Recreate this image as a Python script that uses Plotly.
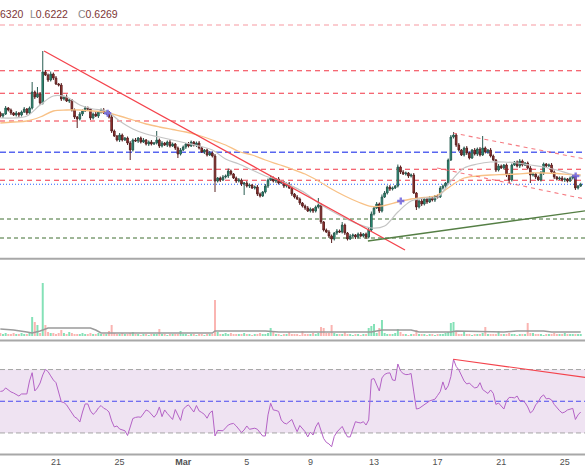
import plotly.graph_objects as go

# ---------------- data (prices in 1e-4 units, 4h candles, index 0..219) ----------------
close_pips = [
    6542, 6550, 6574, 6566, 6554, 6546, 6554, 6546, 6558, 6570,
    6554, 6574, 6638, 6618, 6630, 6594, 6718, 6706, 6686, 6710,
    6694, 6670, 6666, 6610, 6618, 6602, 6606, 6566, 6538, 6530,
    6550, 6562, 6574, 6570, 6534, 6550, 6542, 6558, 6566, 6554,
    6558, 6538, 6482, 6462, 6446, 6466, 6446, 6454, 6434, 6406,
    6446, 6442, 6454, 6438, 6446, 6430, 6438, 6430, 6434, 6446,
    6422, 6434, 6426, 6438, 6422, 6430, 6414, 6390, 6406, 6418,
    6430, 6422, 6438, 6426, 6434, 6414, 6398, 6406, 6386, 6394,
    6382, 6282, 6294, 6286, 6298, 6302, 6322, 6310, 6294, 6282,
    6286, 6270, 6274, 6262, 6266, 6254, 6258, 6230, 6222, 6238,
    6262, 6286, 6294, 6282, 6290, 6274, 6278, 6262, 6270, 6254,
    6230, 6218, 6210, 6194, 6182, 6174, 6162, 6170, 6162, 6178,
    6186, 6118, 6086, 6078, 6062, 6050, 6074, 6082, 6078, 6106,
    6074, 6050, 6062, 6066, 6058, 6070, 6062, 6070, 6058, 6086,
    6150, 6174, 6190, 6162, 6218, 6234, 6258, 6250, 6254, 6262,
    6338, 6318, 6310, 6314, 6302, 6306, 6234, 6178, 6202, 6190,
    6210, 6198, 6214, 6206, 6222, 6218, 6254, 6262, 6274, 6366,
    6458, 6466, 6426, 6406, 6386, 6414, 6394, 6374, 6406, 6390,
    6410, 6386, 6414, 6398, 6406, 6382, 6366, 6326, 6342, 6334,
    6346, 6306, 6286, 6346, 6358, 6342, 6362, 6346, 6354, 6334,
    6306, 6310, 6298, 6286, 6314, 6350, 6342, 6346, 6318, 6298,
    6290, 6294, 6286, 6290, 6282, 6294, 6302, 6254, 6262, 6269,
]
first_open_pips = 6554

wick_up = [
    6, 4, 8, 4, 6, 4, 8, 4, 6, 8, 4, 6, 40, 6, 28, 8, 84, 8, 6, 10,
    6, 8, 4, 8, 6, 10, 6, 4, 6, 4, 8, 6, 8, 6, 4, 6, 8, 4, 6, 8,
    6, 4, 8, 6, 4, 8, 6, 4, 6, 8, 6, 8, 4, 6, 8, 4, 6, 8, 4, 36,
    6, 8, 4, 6, 8, 6, 4, 6, 8, 6, 4, 8, 6, 4, 6, 8, 6, 4, 6, 8,
    6, 8, 4, 6, 8, 6, 10, 6, 4, 6, 8, 6, 4, 8, 6, 4, 6, 8, 6, 4,
    8, 6, 10, 6, 4, 8, 6, 4, 6, 8, 6, 4, 8, 6, 4, 6, 8, 6, 4, 6,
    28, 6, 4, 6, 8, 6, 4, 8, 6, 12, 6, 4, 8, 6, 4, 6, 8, 4, 6, 8,
    10, 6, 8, 6, 10, 8, 6, 8, 6, 4, 10, 6, 8, 6, 4, 6, 8, 4, 6, 8,
    6, 4, 8, 6, 4, 6, 8, 6, 4, 6, 8, 12, 6, 8, 4, 6, 8, 6, 4, 8,
    6, 8, 48, 6, 4, 8, 6, 4, 8, 6, 4, 6, 8, 6, 4, 6, 8, 6, 4, 6,
    8, 6, 4, 6, 8, 6, 4, 6, 8, 6, 4, 6, 8, 6, 4, 6, 8, 6, 4, 6,
]
wick_dn = [
    6, 8, 4, 6, 8, 4, 6, 8, 6, 4, 8, 6, 6, 8, 4, 8, 6, 4, 8, 6,
    8, 4, 6, 8, 6, 4, 8, 6, 8, 36, 6, 8, 4, 6, 8, 6, 4, 8, 6, 4,
    8, 6, 8, 4, 6, 8, 6, 4, 8, 40, 6, 4, 8, 6, 4, 6, 8, 6, 4, 6,
    8, 6, 4, 8, 6, 4, 8, 16, 6, 4, 8, 6, 4, 6, 8, 6, 4, 8, 6, 4,
    6, 44, 6, 8, 4, 6, 8, 6, 4, 8, 6, 8, 44, 6, 8, 4, 6, 8, 6, 4,
    6, 8, 4, 6, 8, 6, 4, 8, 6, 4, 8, 6, 4, 8, 6, 8, 4, 6, 8, 6,
    6, 8, 6, 4, 8, 16, 6, 8, 4, 6, 8, 6, 4, 6, 8, 6, 4, 6, 8, 6,
    8, 6, 4, 8, 6, 4, 6, 8, 6, 4, 6, 8, 4, 6, 8, 6, 4, 12, 6, 8,
    6, 8, 4, 6, 8, 6, 4, 6, 8, 6, 4, 6, 8, 6, 4, 6, 8, 6, 4, 6,
    8, 6, 4, 6, 8, 6, 4, 8, 6, 4, 6, 8, 12, 6, 4, 6, 8, 6, 4, 6,
    32, 6, 8, 4, 6, 8, 6, 4, 6, 8, 6, 4, 6, 8, 6, 4, 6, 8, 6, 4,
]

volume = [
    3, 2, 3, 2, 2, 3, 2, 2, 3, 2, 2, 4, 19, 14, 11, 3, 53, 11, 4, 3,
    3, 2, 3, 6, 3, 2, 4, 3, 2, 2, 2, 3, 2, 2, 3, 2, 2, 3, 2, 2,
    2, 5, 11, 3, 2, 2, 3, 2, 2, 3, 4, 2, 2, 1, 2, 2, 1, 2, 2, 2,
    7, 2, 2, 1, 2, 2, 2, 2, 5, 2, 2, 1, 2, 2, 1, 2, 2, 1, 2, 2,
    2, 36, 4, 2, 2, 3, 2, 3, 2, 2, 2, 2, 3, 2, 2, 1, 2, 2, 3, 2,
    2, 3, 8, 5, 2, 2, 1, 2, 2, 4, 2, 2, 2, 1, 5, 2, 2, 2, 3, 2,
    3, 9, 8, 3, 3, 11, 3, 2, 2, 2, 4, 2, 2, 1, 2, 2, 1, 2, 2, 8,
    10, 12, 3, 8, 16, 3, 2, 2, 2, 3, 7, 4, 2, 2, 1, 2, 2, 6, 2, 2,
    2, 1, 2, 2, 1, 2, 2, 2, 3, 4, 13, 14, 5, 2, 2, 5, 2, 2, 1, 2,
    2, 2, 3, 9, 2, 2, 2, 2, 5, 2, 2, 2, 3, 2, 2, 1, 2, 2, 2, 13,
    3, 3, 2, 2, 2, 1, 2, 2, 2, 3, 2, 2, 2, 3, 2, 2, 2, 2, 2, 2,
]
vol_ma_idx = [0, 5, 10, 12, 15, 18, 25, 34, 36, 38, 45, 80, 81, 100, 105,
              140, 144, 155, 158, 170, 172, 190, 195, 205, 208, 219]
vol_ma = [7, 6, 4, 3, 5, 8, 8, 8, 6, 3, 3, 3, 5, 5, 4,
          4, 6, 6, 4, 4, 5, 4, 5, 5, 4, 4]

ma_idx = [0, 5, 10, 15, 20, 25, 30, 35, 40, 45, 50, 55, 60, 65, 70, 75, 80, 85,
          90, 95, 100, 105, 110, 115, 120, 125, 130, 135, 140, 145, 150, 155,
          160, 165, 170, 175, 180, 185, 190, 195, 200, 205, 210, 215, 219]
ma_fast_pips = [6534, 6534, 6542, 6586, 6622, 6618, 6586, 6570, 6562, 6522, 6490,
                6470, 6458, 6446, 6434, 6422, 6406, 6370, 6350, 6326, 6302, 6286,
                6262, 6234, 6194, 6162, 6134, 6110, 6094, 6102, 6158, 6202, 6214,
                6218, 6282, 6334, 6350, 6358, 6358, 6354, 6346, 6338, 6326, 6310, 6302]
ma_slow_pips = [6514, 6518, 6522, 6538, 6562, 6566, 6566, 6562, 6556, 6542, 6526,
                6510, 6498, 6488, 6478, 6464, 6446, 6426, 6400, 6386, 6366, 6348,
                6330, 6310, 6282, 6250, 6222, 6198, 6180, 6184, 6198, 6210, 6216,
                6226, 6262, 6294, 6302, 6306, 6308, 6310, 6314, 6314, 6312, 6308, 6306]

rsi = [
    56.2, 56.5, 58.4, 57.1, 55.9, 55.2, 54.3, 53.3, 54.6, 54.6,
    54.6, 62.8, 68.0, 56.5, 58.4, 61.5, 66.6, 70.1, 68.7, 66.0,
    63.4, 61.7, 55.9, 49.6, 49.2, 47.7, 45.1, 42.6, 40.1, 39.1,
    36.9, 43.2, 48.3, 48.3, 43.9, 41.7, 43.2, 45.8, 47.3, 45.6,
    44.8, 43.2, 37.6, 33.8, 34.4, 32.5, 31.9, 31.4, 28.4, 33.2,
    39.1, 39.8, 40.1, 39.9, 42.6, 44.5, 43.7, 41.7, 39.9, 42.0,
    46.4, 40.3, 44.5, 42.3, 40.1, 38.5, 44.8, 41.4, 37.9, 44.8,
    46.7, 47.7, 45.8, 43.2, 47.3, 43.9, 42.9, 41.7, 39.3, 42.6,
    43.9, 28.1, 31.6, 31.6, 31.4, 33.2, 35.0, 35.7, 36.0, 34.4,
    32.5, 30.3, 31.9, 34.4, 32.3, 32.5, 33.0, 32.3, 30.0, 28.1,
    28.1, 41.4, 48.7, 44.5, 44.2, 43.6, 38.2, 36.3, 35.7, 36.9,
    38.5, 34.4, 30.8, 34.7, 32.8, 30.8, 27.5, 30.6, 28.7, 33.8,
    36.6, 31.3, 26.5, 24.1, 23.1, 21.3, 27.8, 30.6, 32.7, 34.1,
    30.6, 27.5, 27.5, 31.9, 37.1, 36.6, 36.3, 37.1, 35.0, 38.2,
    63.8, 64.3, 60.9, 56.5, 64.7, 66.9, 67.7, 67.9, 63.4, 63.1,
    73.5, 69.1, 67.5, 66.8, 66.9, 67.5, 55.9, 45.1, 45.5, 46.7,
    47.5, 48.9, 50.2, 50.8, 51.3, 53.7, 56.1, 62.2, 57.1, 59.7,
    65.5, 76.4, 72.0, 69.8, 66.0, 62.8, 60.9, 61.5, 59.7, 58.4,
    58.8, 61.7, 57.4, 55.9, 54.9, 57.1, 55.0, 48.0, 48.9, 47.0,
    45.1, 50.2, 52.4, 52.4, 52.1, 53.3, 50.2, 50.5, 49.2, 46.4,
    42.6, 44.1, 47.7, 49.6, 52.7, 54.0, 51.5, 51.8, 50.8, 48.0,
    45.8, 44.1, 42.6, 43.2, 44.5, 45.1, 45.5, 38.5, 41.4, 43.2,
]

tick_idx = [21, 45, 69, 93, 117, 141, 165, 189, 213]
tick_text = ["21", "25", "<b>Mar</b>", "5", "9", "13", "17", "21", "25"]

# horizontal drawn levels
levels = [0.6906, 0.6723, 0.6633, 0.6522, 0.6397, 0.6329, 0.6285, 0.6269, 0.6130, 0.6054]
level_colors = ["rgba(242,54,69,0.5)", "#f23645", "#f23645", "#f23645", "#5866f0",
                "#f23645", "#f23645", "#2962ff", "#3f6e30", "#3f6e30"]
level_dash = ["5px,4px", "5px,4px", "5px,4px", "5px,4px", "6px,3px",
              "5px,4px", "5px,4px", "1px,2px", "4px,3px", "4px,3px"]
level_width = [1.2, 1, 1, 1, 1.6, 1, 1, 1, 1, 1]

# trend lines (candle index, price)
red_trend_x, red_trend_y = [16.5, 152.7], [0.6802, 0.6006]
green_trend_x, green_trend_y = [138.7, 221.0], [0.6042, 0.6163]
chan_up_x, chan_up_y = [170.8, 221.0], [0.6474, 0.6369]
chan_dn_x, chan_dn_y = [164.8, 221.0], [0.6334, 0.6209]
rsi_trend_x, rsi_trend_y = [170.9, 221.0], [76.5, 65.0]
cross_idx = [40.5, 151.1, 217.1]
cross_price = [0.6553, 0.6202, 0.6302]

# ---------------- build ----------------
n = len(close_pips)
assert len(wick_up) == n and len(wick_dn) == n and len(volume) == n and len(rsi) == n, \
    (n, len(wick_up), len(wick_dn), len(volume), len(rsi))
idx = list(range(n))
close = [c / 1e4 for c in close_pips]
open_ = [first_open_pips / 1e4] + close[:-1]
high = [max(o, c) + w / 1e4 for o, c, w in zip(open_, close, wick_up)]
low = [min(o, c) - w / 1e4 for o, c, w in zip(open_, close, wick_dn)]
vol_colors = ["rgba(50,205,135,0.6)" if c >= o else "rgba(246,130,125,0.6)"
              for o, c in zip(open_, close)]

fig = go.Figure()

# RSI band
fig.add_shape(type="rect", xref="paper", yref="y3", x0=0, x1=1, y0=30, y1=70,
              fillcolor="#efe3f2", line_width=0, layer="below")
for lv, col in [(70, "#a6a6a6"), (30, "#a6a6a6"), (50, "#4a4af0")]:
    fig.add_shape(type="line", xref="paper", yref="y3", x0=0, x1=1, y0=lv, y1=lv,
                  line=dict(color=col, width=1, dash="5px,3px"), layer="below")

# price levels
for lv, col, ds, wd in zip(levels, level_colors, level_dash, level_width):
    fig.add_shape(type="line", xref="paper", yref="y", x0=0, x1=1, y0=lv, y1=lv,
                  line=dict(color=col, width=wd, dash=ds), layer="below")

# moving averages
fig.add_trace(go.Scatter(x=ma_idx, y=[v / 1e4 for v in ma_slow_pips], mode="lines",
                         line=dict(color="#f8c186", width=1.3, shape="spline"),
                         xaxis="x", yaxis="y", hoverinfo="skip"))
fig.add_trace(go.Scatter(x=ma_idx, y=[v / 1e4 for v in ma_fast_pips], mode="lines",
                         line=dict(color="#c4c4c4", width=1.2, shape="spline"),
                         xaxis="x", yaxis="y", hoverinfo="skip"))

# candles
fig.add_trace(go.Candlestick(
    x=idx, open=open_, high=high, low=low, close=close, xaxis="x", yaxis="y",
    increasing=dict(line=dict(color="#2a5c52", width=1), fillcolor="#27a482"),
    decreasing=dict(line=dict(color="#5a2222", width=1), fillcolor="#ad3530"),
    whiskerwidth=0, hoverinfo="skip"))

# trend lines
fig.add_trace(go.Scatter(x=red_trend_x, y=red_trend_y, mode="lines",
                         line=dict(color="#f4434c", width=1.3), xaxis="x", yaxis="y"))
fig.add_trace(go.Scatter(x=green_trend_x, y=green_trend_y, mode="lines",
                         line=dict(color="#557f45", width=1.4), xaxis="x", yaxis="y"))
for cx, cy in [(chan_up_x, chan_up_y), (chan_dn_x, chan_dn_y)]:
    fig.add_trace(go.Scatter(x=cx, y=cy, mode="lines",
                             line=dict(color="rgba(242,80,90,0.75)", width=1.1, dash="4px,4px"),
                             xaxis="x", yaxis="y"))
fig.add_trace(go.Scatter(x=cross_idx, y=cross_price, mode="markers",
                         marker=dict(symbol="cross", size=6, color="rgba(110,100,225,0.85)"),
                         xaxis="x", yaxis="y"))

# volume
fig.add_trace(go.Bar(x=idx, y=volume, marker=dict(color=vol_colors, line_width=0),
                     xaxis="x", yaxis="y2", hoverinfo="skip"))
fig.add_trace(go.Scatter(x=vol_ma_idx, y=vol_ma, mode="lines",
                         line=dict(color="#9a9a9a", width=1.5), xaxis="x", yaxis="y2"))

# RSI
fig.add_trace(go.Scatter(x=idx, y=rsi, mode="lines", line=dict(color="#b462c6", width=1),
                         xaxis="x", yaxis="y3"))
fig.add_trace(go.Scatter(x=rsi_trend_x, y=rsi_trend_y, mode="lines",
                         line=dict(color="#f4434c", width=1.2), xaxis="x", yaxis="y3"))

# panel separators
H = 455.0
for ypx, w, col in [(258.7, 2, "#a8a8a8"), (340.5, 2, "#a8a8a8"), (454.5, 2, "#a8a8a8")]:
    yp = 1 - ypx / H
    fig.add_shape(type="line", xref="paper", yref="paper", x0=0, x1=1, y0=yp, y1=yp,
                  line=dict(color=col, width=w))

# OHLC legend text
fnt = "Liberation Sans, Arial, sans-serif"
red_txt = "#7d3636"
for px, txt in [(-2, f'<span style="color:{red_txt}">6320</span>'),
                (28, f'<span style="color:#8c8c8c">L</span><span style="color:{red_txt}">0.6222</span>'),
                (76, f'<span style="color:#8c8c8c">C</span><span style="color:{red_txt}">0.6269</span>')]:
    fig.add_annotation(x=px / 585, y=1 - 14.5 / H, xref="paper", yref="paper", text=txt,
                       showarrow=False, xanchor="left", yanchor="middle",
                       font=dict(family=fnt, size=10.5))

fig.update_layout(
    width=585, height=470, margin=dict(l=0, r=0, t=0, b=15),
    paper_bgcolor="white", plot_bgcolor="white", showlegend=False,
    bargap=0.25, boxgap=0.15,
    xaxis=dict(range=[-0.13, 220.62], anchor="y3", showgrid=False, zeroline=False,
               tickmode="array", tickvals=tick_idx, ticktext=tick_text, ticks="",
               tickfont=dict(family=fnt, size=9, color="#505050"),
               rangeslider=dict(visible=False), showline=False),
    yaxis=dict(domain=[1 - 258 / H, 1], range=[0.5974, 0.7006], showgrid=False,
               zeroline=False, showticklabels=False),
    yaxis2=dict(domain=[1 - 340 / H, 1 - 260 / H], range=[-4, 76], showgrid=False,
                zeroline=False, showticklabels=False),
    yaxis3=dict(domain=[0, 1 - 341 / H], range=[16.1, 88.0], showgrid=False,
                zeroline=False, showticklabels=False),
)

fig.write_html("out.html", config={"displayModeBar": False},
               post_script="document.body.style.margin='0';document.body.style.padding='0';")
